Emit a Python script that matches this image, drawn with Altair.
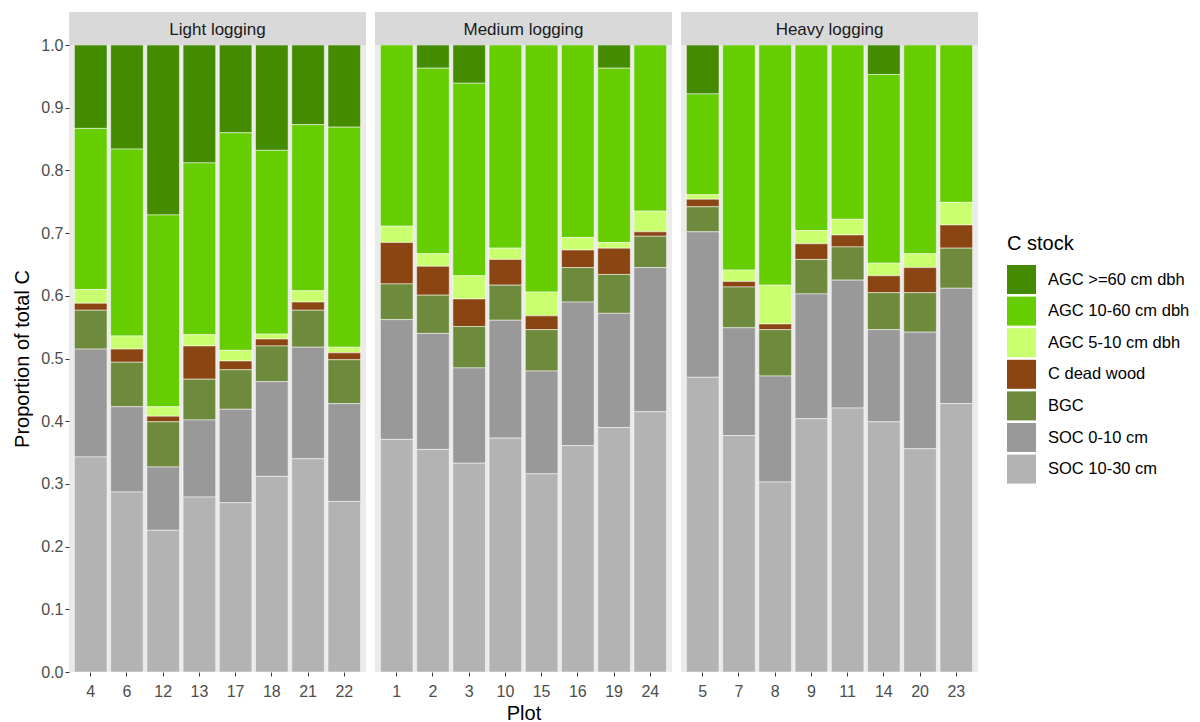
import altair as alt
import pandas as pd

# ---- data ----
panels = ["Light logging", "Medium logging", "Heavy logging"]
light_plots = ["4", "6", "12", "13", "17", "18", "21", "22"]
medium_plots = ["1", "2", "3", "10", "15", "16", "19", "24"]
heavy_plots = ["5", "7", "8", "9", "11", "14", "20", "23"]

# legend order (top of the stack first)
stocks = ["AGC >=60 cm dbh", "AGC 10-60 cm dbh", "AGC 5-10 cm dbh",
          "C dead wood", "BGC", "SOC 0-10 cm", "SOC 10-30 cm"]
colors = ["#458B00", "#66CD00", "#CAFF70", "#8B4513", "#6E8B3D", "#999999", "#B3B3B3"]

# values in order: light plots, medium plots, heavy plots
soc_10_30 = [0.343, 0.287, 0.226, 0.279, 0.270, 0.312, 0.340, 0.272,
             0.371, 0.355, 0.333, 0.373, 0.316, 0.361, 0.390, 0.415,
             0.470, 0.377, 0.303, 0.404, 0.421, 0.399, 0.356, 0.428]
soc_0_10 = [0.172, 0.136, 0.101, 0.123, 0.149, 0.151, 0.178, 0.156,
            0.191, 0.185, 0.152, 0.188, 0.164, 0.229, 0.182, 0.230,
            0.232, 0.172, 0.169, 0.199, 0.204, 0.147, 0.186, 0.184]
bgc = [0.062, 0.071, 0.072, 0.065, 0.063, 0.057, 0.059, 0.070,
       0.057, 0.061, 0.066, 0.056, 0.066, 0.055, 0.062, 0.050,
       0.040, 0.065, 0.074, 0.055, 0.053, 0.059, 0.063, 0.064]
dead_wood = [0.011, 0.021, 0.009, 0.053, 0.014, 0.011, 0.013, 0.011,
             0.066, 0.046, 0.044, 0.041, 0.022, 0.028, 0.042, 0.007,
             0.012, 0.009, 0.009, 0.025, 0.019, 0.027, 0.040, 0.037]
agc_5_10 = [0.022, 0.021, 0.015, 0.018, 0.017, 0.008, 0.018, 0.009,
            0.026, 0.020, 0.037, 0.018, 0.038, 0.020, 0.009, 0.033,
            0.007, 0.018, 0.062, 0.021, 0.025, 0.020, 0.022, 0.036]
agc_10_60 = [0.257, 0.298, 0.306, 0.274, 0.347, 0.293, 0.265, 0.351,
             0.289, 0.296, 0.307, 0.324, 0.394, 0.307, 0.278, 0.265,
             0.161, 0.359, 0.383, 0.296, 0.278, 0.301, 0.333, 0.251]
agc_60 = [0.133, 0.166, 0.271, 0.188, 0.140, 0.168, 0.127, 0.131,
          0.000, 0.037, 0.061, 0.000, 0.000, 0.000, 0.037, 0.000,
          0.078, 0.000, 0.000, 0.000, 0.000, 0.047, 0.000, 0.000]

series = {
    "AGC >=60 cm dbh": agc_60,
    "AGC 10-60 cm dbh": agc_10_60,
    "AGC 5-10 cm dbh": agc_5_10,
    "C dead wood": dead_wood,
    "BGC": bgc,
    "SOC 0-10 cm": soc_0_10,
    "SOC 10-30 cm": soc_10_30,
}

plot_lists = [light_plots, medium_plots, heavy_plots]
rows = []
idx = 0
for p, plist in zip(panels, plot_lists):
    for pl in plist:
        for s in stocks:
            rows.append({"panel": p, "Plot": pl, "Stock": s,
                         "value": series[s][idx],
                         "ord": len(stocks) - stocks.index(s)})
        idx += 1
df = pd.DataFrame(rows)

FONT = "Liberation Sans"
W = 297
H = 627
STRIP = 33


def make_panel(i):
    name = panels[i]
    plist = plot_lists[i]
    sub = df[df["panel"] == name]
    if i == 0:
        yaxis = alt.Axis(values=[round(v * 0.1, 1) for v in range(11)],
                         labelExpr="format(datum.value, '.1f')",
                         title="Proportion of total C")
    else:
        yaxis = None
    xaxis = alt.Axis(title="Plot" if i == 1 else None, labelAngle=0)
    bars = alt.Chart(sub).mark_bar(stroke="white", strokeWidth=0.5).encode(
        x=alt.X("Plot:N", sort=plist,
                scale=alt.Scale(paddingInner=0.1, paddingOuter=0.15), axis=xaxis),
        y=alt.Y("value:Q", stack="normalize",
                scale=alt.Scale(domain=[0, 1], nice=False), axis=yaxis),
        color=alt.Color("Stock:N", sort=stocks,
                        scale=alt.Scale(domain=stocks, range=colors),
                        legend=alt.Legend(title="C stock", orient="none",
                                          legendX=938, legendY=189)),
        order=alt.Order("ord:Q", sort="ascending"),
    )
    lab = pd.DataFrame({"t": [name]})
    strip = alt.Chart(lab).mark_rect(color="#D9D9D9").encode(
        x=alt.value(0), x2=alt.value(W), y=alt.value(-STRIP), y2=alt.value(0))
    text = alt.Chart(lab).mark_text(font=FONT, fontSize=17, color="#1A1A1A").encode(
        x=alt.value(W / 2), y=alt.value(-STRIP / 2 + 1.5), text="t:N")
    return alt.layer(bars, strip, text).properties(width=W, height=H)


chart = alt.hconcat(make_panel(0), make_panel(1), make_panel(2), spacing=9).properties(
    padding={"left": 4, "top": 4, "right": 0, "bottom": 0}
).configure_view(
    fill="#EBEBEB", strokeWidth=0
).configure_axis(
    domain=False, grid=False, tickColor="#333333", tickSize=4, tickWidth=1,
    labelColor="#4D4D4D", labelFont=FONT, labelFontSize=16,
    titleFont=FONT, titleFontSize=20, titleColor="#000000", titleFontWeight="normal",
).configure_axisY(
    titlePadding=8, labelPadding=2
).configure_axisX(
    titlePadding=4, labelPadding=7
).configure_legend(
    titleFont=FONT, titleFontSize=20, titleFontWeight="normal", titleColor="#000000",
    labelFont=FONT, labelFontSize=16.5, labelColor="#000000",
    symbolType="square", symbolSize=841, symbolStrokeWidth=0, symbolOpacity=1,
    rowPadding=2.6, labelOffset=12, titlePadding=11
)

chart.save("out.html", embed_options={"renderer": "svg", "actions": False})
